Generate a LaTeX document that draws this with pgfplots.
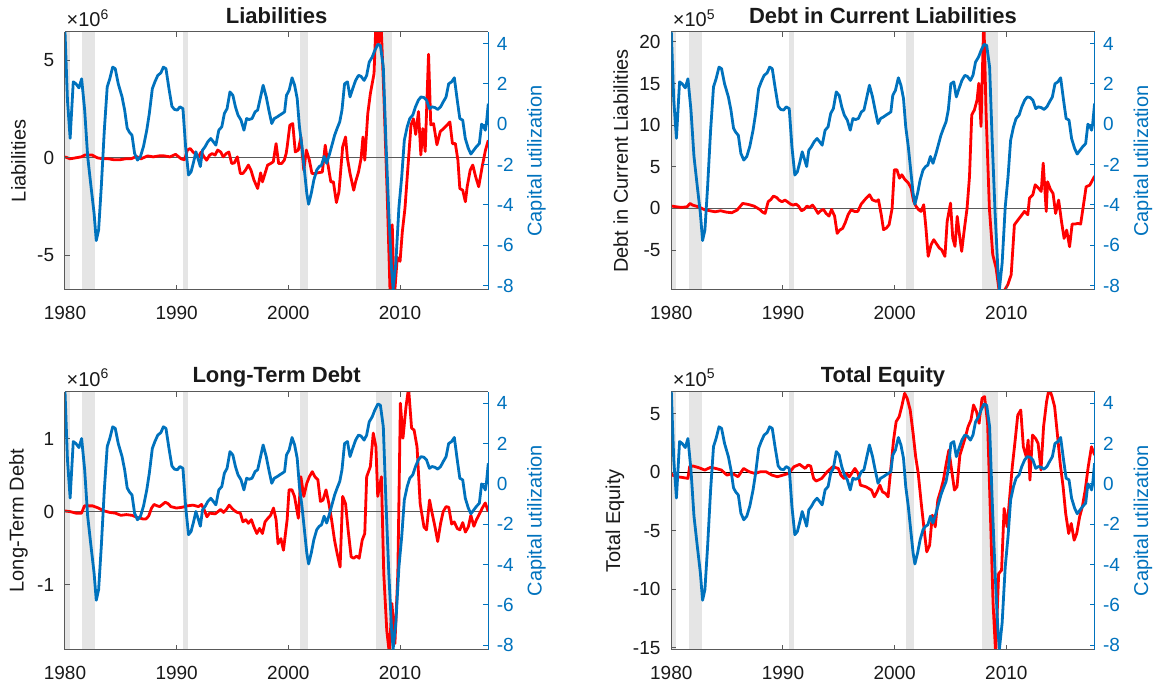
\documentclass[border=0pt]{standalone}
\usepackage{fontspec}
\setmainfont{Liberation Sans}
\usepackage{pgfplots}
\usepackage{pgfplotstable}
\pgfplotsset{compat=1.18}

\definecolor{mblue}{rgb}{0,0.447,0.741}
\definecolor{mred}{rgb}{1,0,0}
\definecolor{recess}{gray}{0.9}
\definecolor{axgray}{gray}{0.35}
\definecolor{txt}{gray}{0.1}

% Capital utilization (right axis, same in every panel)
\pgfplotstableread{
t v
1980.00 4.57
1980.22 1.2
1980.46 -0.7
1980.74 2.1
1980.98 2.0
1981.25 1.8
1981.49 2.25
1981.76 0.7
1982.03 -1.6
1982.33 -3.1
1982.60 -4.4
1982.80 -5.77
1983.01 -5.24
1983.25 -3.1
1983.52 -0.3
1983.78 1.85
1984.01 2.25
1984.27 2.83
1984.50 2.75
1984.77 2.0
1985.11 1.35
1985.34 0.7
1985.57 -0.2
1985.77 -0.4
1986.00 -0.55
1986.23 -1.45
1986.49 -1.78
1986.76 -1.6
1987.03 -1.1
1987.32 -0.3
1987.55 0.53
1987.82 1.76
1988.05 2.1
1988.31 2.42
1988.58 2.54
1988.81 2.83
1989.04 2.75
1989.31 1.76
1989.57 0.89
1989.80 0.73
1990.06 0.7
1990.29 0.86
1990.56 0.77
1990.80 -1.12
1991.06 -2.52
1991.29 -2.36
1991.52 -1.86
1991.72 -1.37
1991.95 -1.78
1992.12 -2.1
1992.31 -1.29
1992.54 -1.12
1992.79 -0.87
1993.05 -0.71
1993.28 -0.87
1993.51 -1.04
1993.77 -0.3
1994.04 -0.13
1994.27 0.53
1994.51 0.77
1994.77 1.6
1995.03 1.43
1995.26 0.86
1995.49 0.45
1995.76 0.2
1996.02 -0.3
1996.26 0.28
1996.49 0.23
1996.75 0.28
1997.02 0.61
1997.25 0.7
1997.51 1.35
1997.74 1.93
1998.02 1.35
1998.25 0.7
1998.51 0.03
1998.74 0.28
1999.00 0.36
1999.23 0.45
1999.46 0.53
1999.66 0.61
1999.83 1.43
2000.07 1.68
2000.33 2.3
2000.56 1.93
2000.79 1.27
2000.99 -0.13
2001.22 -1.12
2001.45 -2.36
2001.65 -3.43
2001.81 -3.97
2002.05 -3.43
2002.28 -2.77
2002.54 -2.27
2002.77 -2.1
2002.97 -2.03
2003.20 -1.6
2003.43 -1.94
2003.70 -1.45
2003.94 -0.96
2004.14 -0.55
2004.37 -0.2
2004.60 0.12
2004.80 0.7
2005.03 2.0
2005.29 2.1
2005.52 1.35
2005.76 1.76
2006.02 2.17
2006.28 2.42
2006.51 2.37
2006.78 2.17
2007.01 2.42
2007.24 3.08
2007.51 3.33
2007.74 3.66
2008.01 3.96
2008.24 3.9
2008.50 2.83
2008.73 -0.8
2008.99 -4.4
2009.24 -7.2
2009.38 -8.17
2009.62 -6.9
2009.90 -4.1
2010.15 -2.6
2010.38 -0.8
2010.64 -0.13
2010.87 0.28
2011.14 0.45
2011.38 0.86
2011.64 1.19
2011.87 1.35
2012.14 1.32
2012.37 1.19
2012.63 0.77
2012.86 0.86
2013.13 0.82
2013.37 0.73
2013.63 0.86
2013.86 1.1
2014.12 1.35
2014.35 2.0
2014.62 2.1
2014.86 2.3
2015.12 1.19
2015.35 0.28
2015.61 0.2
2015.84 -0.71
2016.11 -1.2
2016.34 -1.48
2016.60 -1.29
2016.83 -1.12
2017.10 -0.96
2017.30 0.0
2017.47 -0.1
2017.63 -0.3
2017.73 0.03
2017.90 1.02
}\capu

% Liabilities (x 10^6)
\pgfplotstableread{
t v
1980.00 0.05
1980.45 -0.05
1980.95 0.0
1981.45 0.05
1981.80 0.15
1982.40 0.15
1982.90 0.0
1983.40 -0.05
1983.90 -0.05
1984.40 -0.1
1984.90 -0.1
1985.40 -0.05
1985.90 -0.05
1986.40 0.07
1986.80 -0.05
1987.40 0.1
1987.90 0.05
1988.40 0.1
1988.90 0.1
1989.40 0.05
1989.90 0.18
1990.40 -0.05
1990.70 -0.1
1990.96 0.4
1991.21 0.48
1991.46 0.3
1991.69 0.19
1991.95 0.05
1992.19 0.3
1992.45 0.05
1992.68 -0.12
1992.95 0.14
1993.18 0.22
1993.44 0.14
1993.67 0.4
1993.94 0.3
1994.17 0.05
1994.44 0.22
1994.67 0.3
1994.93 -0.29
1995.16 -0.26
1995.43 0.05
1995.70 -0.8
1995.93 -0.8
1996.16 -0.63
1996.42 -0.37
1996.65 -0.63
1996.92 -1.14
1997.25 -1.57
1997.52 -0.77
1997.68 -1.23
1997.91 -0.8
1998.14 -0.37
1998.41 -0.29
1998.65 -0.2
1998.90 0.73
1999.13 -0.29
1999.40 -0.29
1999.63 -0.12
1999.80 0.22
1999.89 0.56
2000.13 1.67
2000.39 1.76
2000.62 0.3
2000.89 0.4
2001.12 1.07
2001.38 -0.63
2001.61 0.4
2001.88 -0.12
2002.11 -0.8
2002.38 -0.8
2002.78 -0.75
2003.04 -0.73
2003.30 0.65
2003.53 -0.29
2003.80 -1.23
2004.03 -1.23
2004.30 -2.29
2004.53 -1.74
2004.86 0.56
2005.12 1.07
2005.29 -0.03
2005.52 -0.8
2005.85 -1.66
2006.02 -1.23
2006.28 -0.72
2006.51 -0.03
2006.68 1.07
2006.84 -0.12
2007.11 2.27
2007.34 3.29
2007.67 4.32
2007.84 6.9
2008.06 5.87
2008.30 6.9
2008.55 3.2
2008.85 -1.9
2009.12 -7.2
2009.30 -3.43
2009.48 -7.2
2009.75 -5.1
2010.00 -5.3
2010.20 -3.8
2010.44 -2.58
2010.74 -0.19
2010.98 1.69
2011.20 2.0
2011.40 1.2
2011.65 2.37
2011.86 0.15
2012.04 1.5
2012.25 0.33
2012.55 5.31
2012.75 1.69
2013.00 1.75
2013.30 0.67
2013.60 1.35
2013.90 1.5
2014.19 1.67
2014.46 1.84
2014.69 0.73
2014.95 0.73
2015.18 -0.12
2015.35 -1.57
2015.61 -1.66
2015.85 -2.25
2016.01 -1.48
2016.28 -0.63
2016.51 -0.37
2016.77 -0.97
2017.04 -1.48
2017.35 -0.46
2017.65 0.4
2017.90 0.9
}\liab

% Debt in current liabilities (x 10^5)
\pgfplotstableread{
t v
1980.04 0.28
1980.43 0.2
1980.92 0.12
1981.42 0.2
1981.68 0.6
1981.91 0.4
1982.41 0.2
1982.93 -0.12
1983.43 -0.28
1983.92 -0.4
1984.41 -0.28
1984.91 -0.44
1985.40 -0.52
1985.89 -0.2
1986.39 0.6
1986.89 0.48
1987.41 0.28
1987.91 -0.12
1988.17 -0.44
1988.40 -0.6
1988.67 0.8
1988.92 1.08
1989.15 1.48
1989.42 1.32
1989.65 1.0
1989.91 0.8
1990.17 1.0
1990.40 0.8
1990.67 0.52
1990.90 0.4
1991.17 0.52
1991.39 0.28
1991.66 -0.28
1991.89 -0.12
1992.15 0.28
1992.38 0.12
1992.64 0.4
1992.87 0
1993.14 -0.6
1993.37 -0.28
1993.63 -0.12
1993.86 -0.6
1994.12 -0.92
1994.35 -0.12
1994.62 -0.92
1994.85 -3.0
1995.08 -2.6
1995.34 -2.4
1995.57 -1.72
1995.84 -0.72
1996.10 -0.16
1996.40 -0.36
1996.70 -0.36
1997.00 0.52
1997.45 1.24
1997.75 1.64
1998.00 1.04
1998.35 0.84
1998.55 1.04
1998.80 -0.76
1999.00 -2.56
1999.25 -2.36
1999.50 -1.96
1999.77 0.0
1999.97 4.64
2000.20 4.64
2000.43 3.64
2000.64 4.04
2000.93 3.44
2001.23 3.04
2001.47 2.44
2001.70 0.84
2001.92 0.24
2002.15 -0.16
2002.36 -0.36
2002.60 0.44
2002.80 -2.36
2003.00 -5.76
2003.26 -4.36
2003.50 -3.76
2003.70 -4.16
2004.00 -4.76
2004.20 -4.96
2004.50 -5.76
2004.70 -1.56
2005.00 0.64
2005.20 -3.56
2005.40 -4.56
2005.60 -0.96
2005.80 -3.16
2006.00 -5.16
2006.25 -2.36
2006.48 0.0
2006.70 3.84
2006.90 11.24
2007.14 11.84
2007.38 13.04
2007.53 15.04
2007.73 9.84
2007.98 23
2008.18 11.64
2008.48 0.0
2008.78 -5.56
2009.08 -7.16
2009.38 -10.2
2009.68 -10.2
2010.13 -9.16
2010.43 -7.96
2010.72 -1.96
2011.17 -1.16
2011.62 -0.36
2011.92 -0.76
2012.07 1.24
2012.37 1.64
2012.58 2.84
2012.88 2.44
2013.12 2.04
2013.30 5.44
2013.57 -0.36
2013.69 3.2
2013.95 2.28
2014.18 1.8
2014.41 -0.6
2014.68 1.0
2014.94 -1.6
2015.17 -3.6
2015.40 -2.6
2015.66 -4.6
2015.89 -1.88
2016.15 -1.88
2016.39 -1.8
2016.65 -1.88
2016.88 0.2
2017.14 2.6
2017.47 2.8
2017.90 3.88
}\dcl

% Long-term debt (x 10^6)
\pgfplotstableread{
t v
1980.00 0.01
1980.49 0
1980.98 -0.02
1981.48 -0.02
1981.74 0.08
1981.98 0.08
1982.47 0.08
1982.99 0.05
1983.52 0.01
1984.01 -0.01
1984.51 -0.02
1985.00 -0.05
1985.50 -0.04
1986.00 -0.05
1986.49 -0.08
1986.99 -0.1
1987.25 -0.1
1987.49 -0.06
1987.75 0.05
1987.98 0.1
1988.25 0.08
1988.48 0.07
1988.74 0.1
1988.97 0.13
1989.24 0.11
1989.47 0.07
1989.74 0.06
1989.97 0.05
1990.46 0.06
1990.96 0.08
1991.46 0.09
1991.95 0.07
1992.22 0.1
1992.45 0.03
1992.71 -0.07
1992.95 -0.02
1993.44 -0.03
1993.94 0.03
1994.20 -0.01
1994.44 0.03
1994.70 0.09
1994.93 0.05
1995.20 0.01
1995.43 -0.01
1995.70 -0.02
1995.93 -0.14
1996.19 -0.11
1996.42 -0.16
1996.69 -0.11
1996.92 -0.21
1997.18 -0.3
1997.42 -0.23
1997.68 -0.3
1997.91 -0.14
1998.17 -0.09
1998.41 -0.05
1998.67 0.05
1998.90 -0.11
1999.07 -0.44
1999.33 -0.37
1999.56 -0.53
1999.89 -0.11
2000.06 0.3
2000.32 0.3
2000.55 0.21
2000.89 -0.09
2001.12 0.48
2001.38 0.21
2001.65 0.39
2001.88 0.48
2002.14 0.55
2002.38 0.48
2002.64 0.44
2002.87 0.14
2003.10 0.16
2003.37 0.3
2003.63 0.11
2003.87 -0.11
2004.13 -0.39
2004.36 -0.57
2004.63 -0.76
2004.86 0.21
2005.12 0.11
2005.35 -0.25
2005.62 -0.62
2005.85 -0.64
2006.11 -0.61
2006.34 -0.64
2006.61 -0.39
2006.84 -0.3
2007.01 0.48
2007.34 0.62
2007.60 1.08
2007.84 0.89
2008.00 0.21
2008.33 0.48
2008.54 -0.85
2008.81 -1.63
2009.04 -1.95
2009.27 -1.26
2009.54 -1.81
2009.80 -0.85
2010.03 1.49
2010.26 1.01
2010.53 1.44
2010.76 1.7
2011.03 1.15
2011.26 1.12
2011.52 0.89
2011.80 0.11
2012.14 -0.21
2012.37 -0.25
2012.64 0.16
2012.87 -0.02
2013.13 -0.21
2013.37 -0.41
2013.63 -0.16
2013.86 0
2014.12 0.07
2014.36 0.06
2014.62 -0.17
2014.85 -0.14
2015.12 -0.23
2015.35 -0.25
2015.61 -0.15
2015.85 -0.28
2016.11 -0.21
2016.34 -0.05
2016.61 -0.2
2016.84 -0.11
2017.14 -0.02
2017.36 0.05
2017.63 0.12
2017.90 0
}\ltd

% Total equity (x 10^5)
\pgfplotstableread{
t v
1980.00 -0.1
1980.10 -0.23
1980.50 -0.37
1980.99 -0.43
1981.49 -0.51
1981.65 0.54
1981.98 0.54
1982.48 0.4
1983.00 0.2
1983.50 0.43
1983.99 0.34
1984.49 0.2
1984.98 -0.23
1985.48 -0.09
1985.97 -0.37
1986.47 0.34
1986.96 0.06
1987.49 -0.09
1987.99 0.06
1988.48 0.06
1989.01 -0.23
1989.50 -0.37
1990.00 -0.23
1990.49 -0.09
1990.99 0.49
1991.49 0.69
1991.98 0.34
1992.24 0.63
1992.48 0.54
1992.74 -0.51
1992.97 -0.74
1993.47 -0.51
1993.96 0.06
1994.46 0.49
1994.95 0.34
1995.18 -0.23
1995.45 -0.51
1995.68 -0.09
1995.94 -0.37
1996.44 0.34
1996.73 -0.09
1996.93 -1.09
1997.43 -1.23
1997.92 -1.51
1998.18 -2.09
1998.42 -1.66
1998.68 -1.09
1998.91 -1.66
1999.18 -1.8
1999.41 -2.09
1999.67 0.49
1999.90 2.77
2000.13 4.34
2000.40 4.77
2000.63 5.63
2000.89 6.77
2001.12 6.34
2001.39 5.34
2001.65 3.34
2001.88 1.34
2002.11 -0.09
2002.38 -2.66
2002.61 -4.66
2002.87 -6.8
2003.13 -6.23
2003.37 -3.66
2003.63 -4.66
2003.86 -2.37
2004.13 -1.51
2004.36 -0.66
2004.62 0.77
2004.85 1.91
2005.08 0.34
2005.35 -1.51
2005.58 -1.23
2005.84 1.49
2006.07 2.2
2006.34 3.06
2006.57 3.91
2006.83 4.49
2007.06 5.77
2007.33 5.2
2007.56 4.2
2007.82 6.34
2008.05 6.49
2008.32 4.2
2008.55 -2.94
2008.81 -11.2
2009.04 -15.5
2009.31 -8.66
2009.57 -8.37
2009.80 -3.09
2010.07 -4.66
2010.30 -2.09
2010.53 0.49
2010.79 2.77
2011.02 4.91
2011.29 5.34
2011.52 2.2
2011.78 1.34
2011.95 2.77
2012.11 -0.66
2012.34 3.2
2012.61 2.91
2012.84 2.49
2013.10 0.2
2013.33 3.91
2013.60 6.06
2013.83 7.2
2014.09 6.49
2014.32 5.63
2014.59 3.06
2014.82 0.77
2015.08 -1.23
2015.31 -3.51
2015.58 -5.23
2015.81 -4.37
2016.07 -5.8
2016.30 -5.23
2016.56 -3.8
2016.80 -2.94
2017.06 -1.51
2017.33 0.49
2017.62 2.2
2017.90 1.49
}\teq

\tikzset{
  expo/.style={anchor=base west, inner sep=0pt, xshift=0.6pt, yshift=2.8pt,
    font=\fontsize{10}{12}\selectfont, text=txt},
}

\pgfplotsset{
  panelbase/.style={
    scale only axis, width=211.65pt, height=129pt,
    xmin=1980, xmax=2017.9,
    anchor=south west,
    clip mode=individual,
    tick align=inside, major tick length=2.5pt,
    scaled ticks=false,
    /pgf/number format/assume math mode=true,
    /pgf/number format/1000 sep={},
    tick label style={font=\fontsize{9.5}{11}\selectfont},
    label style={font=\fontsize{11.4}{13}\selectfont},
  },
  leftax/.style={
    panelbase, axis on top,
    axis x line*=box, axis y line*=left,
    xtick={1980,1990,2000,2010},
    axis line style={axgray, line width=0.5pt},
    major tick style={axgray, line width=0.5pt},
    tick label style={txt},
    xticklabel shift=4.8pt, yticklabel shift=1.9pt,
    every axis title/.style={at={(axis description cs:0.5,1)}, anchor=base,
      yshift=4.4pt, font=\bfseries\fontsize{11}{13}\selectfont, txt},
    every axis y label/.style={rotate=90, anchor=center, txt},
  },
  rightax/.style={
    panelbase,
    axis x line=none, axis y line*=right,
    ymin=-8.22, ymax=4.57, ytick={-8,-6,-4,-2,0,2,4},
    y axis line style={mblue, line width=0.5pt},
    ytick style={mblue, line width=0.5pt},
    yticklabel style={mblue}, yticklabel shift=0.7pt,
    ylabel={Capital utilization},
    every axis y label/.style={at={(axis description cs:1.114,0.5)},
      rotate=90, anchor=center, mblue},
  },
  redline/.style={mred, line width=1.4pt, line join=round},
  blueline/.style={mblue, line width=1.4pt, line join=round},
  recbar/.style={draw=none, fill=recess, forget plot},
  zeroline/.style={line width=0.6pt, forget plot},
}

% shaded recession bands, spanning the full height of the axis
\newcommand{\recessions}{%
  \addplot[recbar] coordinates {(1980.00,-100) (1980.45,-100) (1980.45,100) (1980.00,100)} -- cycle;
  \addplot[recbar] coordinates {(1981.55,-100) (1982.72,-100) (1982.72,100) (1981.55,100)} -- cycle;
  \addplot[recbar] coordinates {(1990.58,-100) (1990.98,-100) (1990.98,100) (1990.58,100)} -- cycle;
  \addplot[recbar] coordinates {(2001.05,-100) (2001.75,-100) (2001.75,100) (2001.05,100)} -- cycle;
  \addplot[recbar] coordinates {(2007.85,-100) (2009.27,-100) (2009.27,100) (2007.85,100)} -- cycle;
}

\begin{document}
\begin{tikzpicture}
\useasboundingbox (0,0) rectangle (579pt,342.5pt);

% ---- Liabilities ----
\begin{axis}[leftax, at={(32.5pt,197.5pt)},
  ymin=-6.77, ymax=6.45, ytick={-5,0,5},
  title={Liabilities}, ylabel={Liabilities},
  ylabel style={at={(axis description cs:-0.110,0.5)}}]
  \recessions
  \addplot[zeroline, axgray] coordinates {(1980,0) (2017.9,0)};
  \addplot[redline] table[x=t, y=v] {\liab};
  \node[expo] at (rel axis cs:0,1) {×10\textsuperscript{6}};
\end{axis}
\begin{axis}[rightax, at={(32.5pt,197.5pt)}]
  \addplot[blueline] table[x=t, y=v] {\capu};
\end{axis}

% ---- Debt in Current Liabilities ----
\begin{axis}[leftax, at={(335.65pt,197.5pt)},
  ymin=-9.8, ymax=21.2, ytick={-5,0,5,10,15,20},
  title={Debt in Current Liabilities}, ylabel={Debt in Current Liabilities},
  ylabel style={at={(axis description cs:-0.1195,0.5)}}]
  \recessions
  \addplot[zeroline, axgray] coordinates {(1980,0) (2017.9,0)};
  \addplot[redline] table[x=t, y=v] {\dcl};
  \node[expo] at (rel axis cs:0,1) {×10\textsuperscript{5}};
\end{axis}
\begin{axis}[rightax, at={(335.65pt,197.5pt)}]
  \addplot[blueline] table[x=t, y=v] {\capu};
\end{axis}

% ---- Long-Term Debt ----
\begin{axis}[leftax, at={(32.5pt,17.65pt)},
  ymin=-1.895, ymax=1.65, ytick={-1,0,1},
  title={Long-Term Debt}, ylabel={Long-Term Debt},
  ylabel style={at={(axis description cs:-0.110,0.5)}}]
  \recessions
  \addplot[zeroline, axgray] coordinates {(1980,0) (2017.9,0)};
  \addplot[redline] table[x=t, y=v] {\ltd};
  \node[expo] at (rel axis cs:0,1) {×10\textsuperscript{6}};
\end{axis}
\begin{axis}[rightax, at={(32.5pt,17.65pt)}]
  \addplot[blueline] table[x=t, y=v] {\capu};
\end{axis}

% ---- Total Equity ----
\begin{axis}[leftax, at={(335.65pt,17.65pt)},
  ymin=-15.17, ymax=6.91, ytick={-15,-10,-5,0,5},
  title={Total Equity}, ylabel={Total Equity},
  ylabel style={at={(axis description cs:-0.133,0.5)}}]
  \recessions
  \addplot[zeroline, black] coordinates {(1980,0) (2017.9,0)};
  \addplot[redline] table[x=t, y=v] {\teq};
  \node[expo] at (rel axis cs:0,1) {×10\textsuperscript{5}};
\end{axis}
\begin{axis}[rightax, at={(335.65pt,17.65pt)}]
  \addplot[blueline] table[x=t, y=v] {\capu};
\end{axis}
\end{tikzpicture}
\end{document}
